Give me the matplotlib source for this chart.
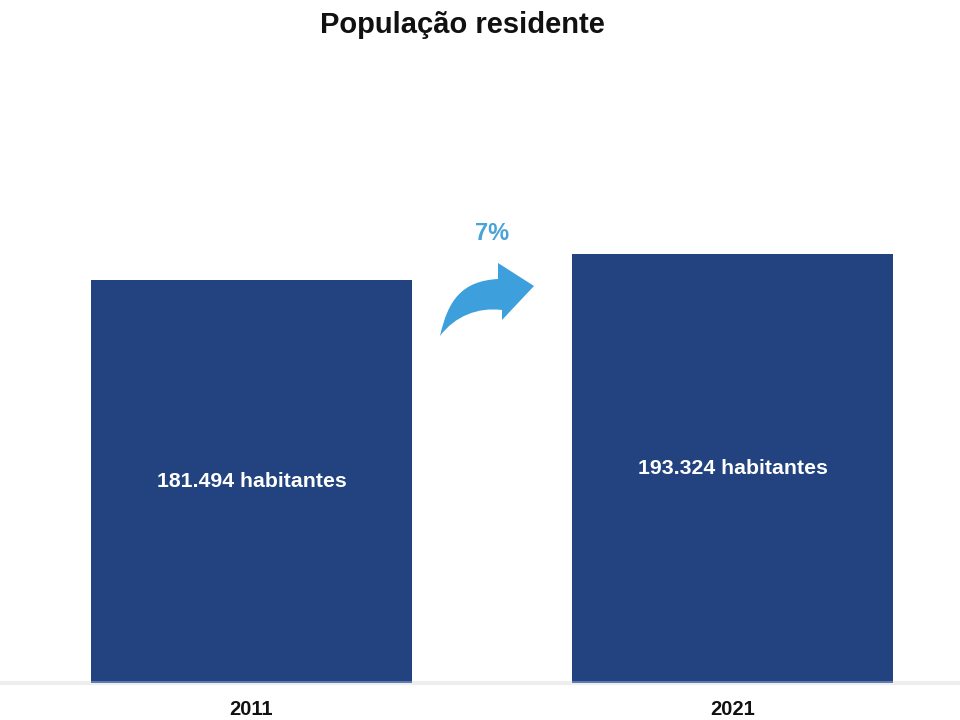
import matplotlib
matplotlib.use("Agg")
import matplotlib.pyplot as plt
from matplotlib.path import Path
from matplotlib.patches import PathPatch
from matplotlib.transforms import Affine2D

plt.rcParams['font.family'] = ['Liberation Sans', 'DejaVu Sans']

# Data
years = ["2011", "2021"]
population = [181494, 193324]
value_labels = ["181.494 habitantes", "193.324 habitantes"]
growth_label = "7%"

W, H = 960, 720
fig = plt.figure(figsize=(W / 100, H / 100), dpi=100)
fig.patch.set_facecolor("white")

# Axes spans the full width; baseline at y=683 px, top at y=100 px
ax_bottom = 1 - 683 / H
ax_top = 1 - 100 / H
ax = fig.add_axes([0, ax_bottom, 1, ax_top - ax_bottom])

x = [0, 1]
bar_color = "#22437f"
bar_w = 321 / 481
ax.bar(x, population, width=bar_w, color=bar_color, zorder=2)

# x-range so that bar centres sit at 251.5 px and 732.5 px
ax.set_xlim(-251.5 / 481, (W - 251.5) / 481)
ax.set_ylim(0, 583 * 450.5)

for xi, val, lab in zip(x, population, value_labels):
    ax.text(xi, val / 2, lab, ha="center", va="center", color="white",
            fontsize=15.3, fontweight="bold", zorder=3)

# Lighter strip at the base of the bars
ax.bar(x, [population[0] * 0.006] * 2, width=bar_w, color="#5f7bb0", zorder=2.5)

ax.set_xticks(x)
ax.set_xticklabels(years, fontsize=14.5, fontweight="bold", color="#111111")
ax.tick_params(axis="x", length=0, pad=12)
ax.set_yticks([])
for s in ["top", "left", "right"]:
    ax.spines[s].set_visible(False)
ax.spines["bottom"].set_color("#eeeeee")
ax.spines["bottom"].set_linewidth(3)
ax.spines["bottom"].set_zorder(1)

fig.text(462 / W, 1 - 25 / H, "População residente", ha="center", va="center",
         fontsize=21, fontweight="bold", color="#111111")

# Curved growth arrow, defined in pixel coordinates (origin top-left)
arrow_color = "#3d9fdb"
verts = [
    (440, 336),
    (448, 300), (462, 281), (498, 279),   # upper edge of the shaft
    (498, 263),                            # top of the head
    (534, 286),                            # tip
    (502, 320),                            # bottom of the head
    (502, 310),                            # lower edge start
    (478, 307), (455, 316), (440, 336),   # lower edge back to the tail
    (440, 336),
]
codes = [Path.MOVETO,
         Path.CURVE4, Path.CURVE4, Path.CURVE4,
         Path.LINETO, Path.LINETO, Path.LINETO, Path.LINETO,
         Path.CURVE4, Path.CURVE4, Path.CURVE4,
         Path.CLOSEPOLY]
to_fig = Affine2D().scale(1, -1).translate(0, H) + Affine2D().scale(1 / W, 1 / H) + fig.transFigure
arrow = PathPatch(Path(verts, codes), facecolor=arrow_color, edgecolor="none",
                  transform=to_fig)
fig.add_artist(arrow)

fig.text(492 / W, 1 - 234 / H, growth_label, ha="center", va="center",
         fontsize=17, fontweight="bold", color="#4aa3d8")

fig.savefig("out.png", dpi=100, facecolor="white")
